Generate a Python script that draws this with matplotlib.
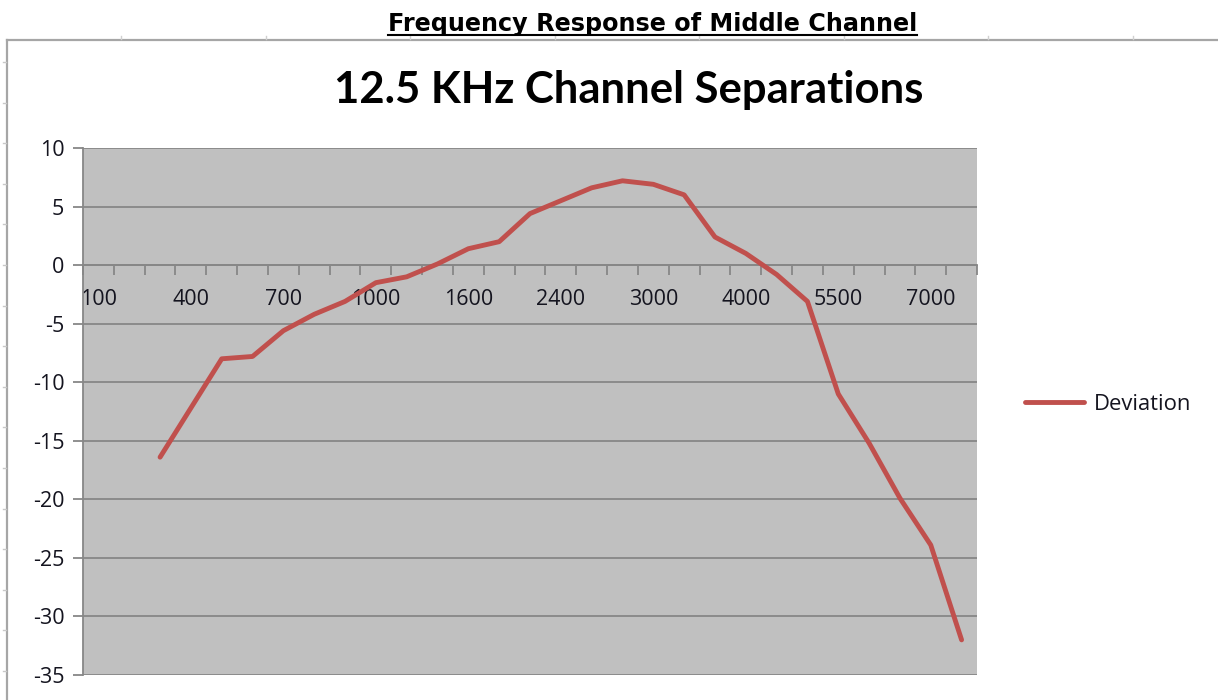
import numpy as np
import matplotlib
matplotlib.use("Agg")
import matplotlib.pyplot as plt
from matplotlib.lines import Line2D

# ---------------- data ----------------
frequencies = ["100", "200", "300", "400", "500", "600", "700", "800", "900", "1000",
               "1200", "1400", "1600", "1800", "2000", "2400", "2600", "2800", "3000",
               "3300", "3600", "4000", "4500", "5000", "5500", "6000", "6500", "7000", "7500"]
deviation = [np.nan, np.nan, -16.4, -12.2, -8.0, -7.8, -5.6, -4.2, -3.1, -1.5,
             -1.0, 0.1, 1.4, 2.0, 4.4, 5.5, 6.6, 7.2, 6.9,
             6.0, 2.4, 1.0, -0.8, -3.1, -11.0, -15.2, -19.9, -23.9, -32.0]
y_ticks = [-35, -30, -25, -20, -15, -10, -5, 0, 5, 10]
series_name = "Deviation"
page_title = "Frequency Response of Middle Channel"
chart_title = "12.5 KHz Channel Separations"

W, H = 1218, 700
fig = plt.figure(figsize=(W / 100, H / 100), dpi=100)
fig.patch.set_facecolor("white")

def fx(px):
    return px / W

def fy(py):
    return 1 - py / H

# ---------------- page-like decorations ----------------
border_col = "#A6A6A6"
fig.add_artist(Line2D([fx(7), fx(1230)], [fy(39.5), fy(39.5)], color=border_col, lw=1.6,
                      transform=fig.transFigure))
fig.add_artist(Line2D([fx(7), fx(7)], [fy(39.5), fy(720)], color=border_col, lw=1.6,
                      transform=fig.transFigure))
for k in range(8):
    xx = 121 + 144.5 * k
    fig.add_artist(Line2D([fx(xx), fx(xx)], [fy(35.5), fy(38.5)], color="#D0D0D0", lw=1.0,
                          transform=fig.transFigure))
for k in range(16):
    yy = 62 + 40.6 * k
    fig.add_artist(Line2D([fx(3), fx(5.5)], [fy(yy), fy(yy)], color="#C8C8C8", lw=1.0,
                          transform=fig.transFigure))

# page title (bold, underlined)
t = fig.text(fx(652.5), fy(31), page_title, ha="center", va="baseline",
             fontsize=17.2, fontweight="bold", family="DejaVu Sans", color="black")
fig.canvas.draw()
bb = t.get_window_extent(renderer=fig.canvas.get_renderer())
fig.add_artist(Line2D([bb.x0 / W, bb.x1 / W], [fy(34.5), fy(34.5)], color="black", lw=1.5,
                      transform=fig.transFigure))

# chart title
fig.text(fx(628.5), fy(103), chart_title, ha="center", va="baseline",
         fontsize=31.4, fontweight="bold", family="Lato", color="black")

# ---------------- axes ----------------
left, right, top, bottom = 83, 977, 148, 675
ax = fig.add_axes([fx(left), fy(bottom), fx(right - left), (bottom - top) / H])
ax.set_facecolor("#C0C0C0")

x = np.arange(len(frequencies))
ax.plot(x, deviation, color="#C0504D", lw=3.5, solid_capstyle="round",
        solid_joinstyle="round", label=series_name, zorder=3)

ax.set_xlim(-0.5, len(frequencies) - 0.5)
ax.set_ylim(-35, 10)

grid_col = "#878787"
ax.set_yticks(y_ticks)
ax.set_yticklabels([str(v) for v in y_ticks])
ax.yaxis.grid(True, color=grid_col, lw=1.3)
ax.set_axisbelow(True)

for s in ("top", "right"):
    ax.spines[s].set_visible(False)
ax.spines["left"].set_color(grid_col)
ax.spines["left"].set_linewidth(1.3)
ax.spines["bottom"].set_position(("data", 0))
ax.spines["bottom"].set_color(grid_col)
ax.spines["bottom"].set_linewidth(1.3)

ax.set_xticks(x[::3])
ax.set_xticklabels(frequencies[::3])
ax.set_xticks(np.arange(-0.5, len(frequencies), 1.0), minor=True)

ax.tick_params(axis="y", direction="out", length=7.5, width=1.3, color=grid_col,
               pad=6, labelsize=15.5, labelcolor="#14141F")
ax.tick_params(axis="x", which="major", length=0, pad=17, labelsize=15.5,
               labelcolor="#14141F")
ax.tick_params(axis="x", which="minor", direction="out", length=7, width=1.3, color=grid_col)
for lab in ax.get_xticklabels() + ax.get_yticklabels():
    lab.set_family("Open Sans")

leg = ax.legend(loc="center left", bbox_to_anchor=(fx(1025), fy(404)),
                bbox_transform=fig.transFigure, frameon=False, borderpad=0,
                borderaxespad=0, handlelength=2.7, handletextpad=0.45,
                prop=dict(family="Open Sans", size=15.8))
for txt in leg.get_texts():
    txt.set_color("#14141F")

fig.savefig("out.png", dpi=100, facecolor="white")
